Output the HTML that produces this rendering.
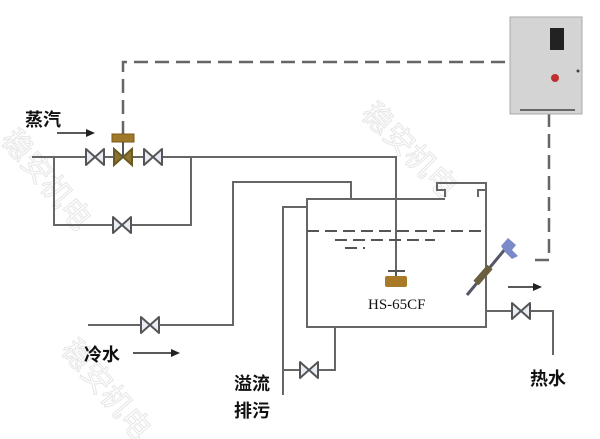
<!DOCTYPE html>
<html><head><meta charset="utf-8"><style>
html,body{margin:0;padding:0;background:#fff;}
svg{display:block;}
.t{font-family:"Liberation Sans","Noto Sans CJK SC",sans-serif;fill:#111;font-weight:bold;}
</style></head><body>
<svg width="600" height="439" viewBox="0 0 600 439" xmlns="http://www.w3.org/2000/svg">
<defs>
<g id="v"><path d="M-9,-8 L9,8 L9,-8 L-9,8 Z" fill="#e8ecf4" stroke="#555" stroke-width="2" stroke-linejoin="round"/></g>
</defs>
<!-- watermark -->
<g fill="none" stroke="#e6e6e6" stroke-width="1" font-family="Noto Sans CJK SC,sans-serif" font-size="30">
<text transform="translate(0,140) rotate(50)">稳安机电</text>
<text transform="translate(360,115) rotate(45)">稳安机电</text>
<text transform="translate(60,350) rotate(50)">稳安机电</text>
</g>
<g stroke="#666" stroke-width="2" fill="none">
<path d="M32,157 H396 V272"/>
<path d="M54,157 V225 H191 V157"/>
<path d="M88,325 H233 V182 H351 V199"/>
<path d="M445,199 H307 V327 H486 V190"/>
<path d="M445,197 V190 H437 V183 H486 V190 H478 V197"/>
<path d="M307,207 H283 V395"/>
<path d="M335,327 V370 H283"/>
<path d="M486,311 H553 V355"/>
</g>
<g stroke="#666" stroke-width="2.5" fill="none" stroke-dasharray="14,7">
<path d="M123,135 V62 H510"/>
<path d="M549,113 V260 H532"/>
</g>
<g stroke="#555" stroke-width="2" fill="none" stroke-dasharray="12,6">
<path d="M307,231 H486"/>
<path d="M335,240 H435"/>
<path d="M345,248 H365"/>
</g>
<use href="#v" x="95" y="157"/>
<use href="#v" x="153" y="157"/>
<use href="#v" x="122" y="225"/>
<use href="#v" x="150" y="325"/>
<use href="#v" x="309" y="370"/>
<use href="#v" x="521" y="311"/>
<path d="M114,149 L132,165 L132,149 L114,165 Z" fill="#8a7430" stroke="#6a5a20" stroke-width="2"/>
<rect x="112" y="134" width="22" height="8" fill="#a0782a" stroke="#7a5a1a"/>
<line x1="123" y1="142" x2="123" y2="157" stroke="#555" stroke-width="2"/>
<path d="M388,271 H405 M396,271 V276" stroke="#555" stroke-width="2"/>
<rect x="385" y="276" width="22" height="11" rx="2" fill="#a87a28"/>
<text x="368" y="309" font-family="Liberation Serif,serif" font-size="15" fill="#111">HS-65CF</text>
<line x1="467" y1="295" x2="506" y2="248" stroke="#556" stroke-width="3"/>
<line x1="476" y1="283" x2="490" y2="267" stroke="#6a6040" stroke-width="7"/>
<path d="M501,246 L508,238 L516,245 L512,250 L518,256 L512,259 L505,252 Z" fill="#7a8ac8"/>
<rect x="510" y="17" width="72" height="97" fill="#d4d4d4" stroke="#aaa"/>
<rect x="550" y="28" width="14" height="22" fill="#222"/>
<circle cx="555" cy="78" r="4" fill="#c03030"/>
<rect x="520" y="109" width="55" height="2" fill="#666"/>
<circle cx="578" cy="71" r="1.5" fill="#444"/>
<g stroke="#222" stroke-width="1.5">
<line x1="57" y1="133" x2="88" y2="133"/>
<line x1="133" y1="353" x2="172" y2="353"/>
<line x1="508" y1="287" x2="534" y2="287"/>
</g>
<g fill="#222">
<path d="M95,133 L86,129 L86,137 Z"/>
<path d="M180,353 L171,349 L171,357 Z"/>
<path d="M542,287 L533,283 L533,291 Z"/>
</g>
<text class="t" x="25" y="126" font-size="18">蒸汽</text>
<text class="t" x="84" y="361" font-size="18">冷水</text>
<text class="t" x="234" y="390" font-size="18">溢流</text>
<text class="t" x="234" y="417" font-size="18">排污</text>
<text class="t" x="530" y="385" font-size="18">热水</text>
</svg>
</body></html>
